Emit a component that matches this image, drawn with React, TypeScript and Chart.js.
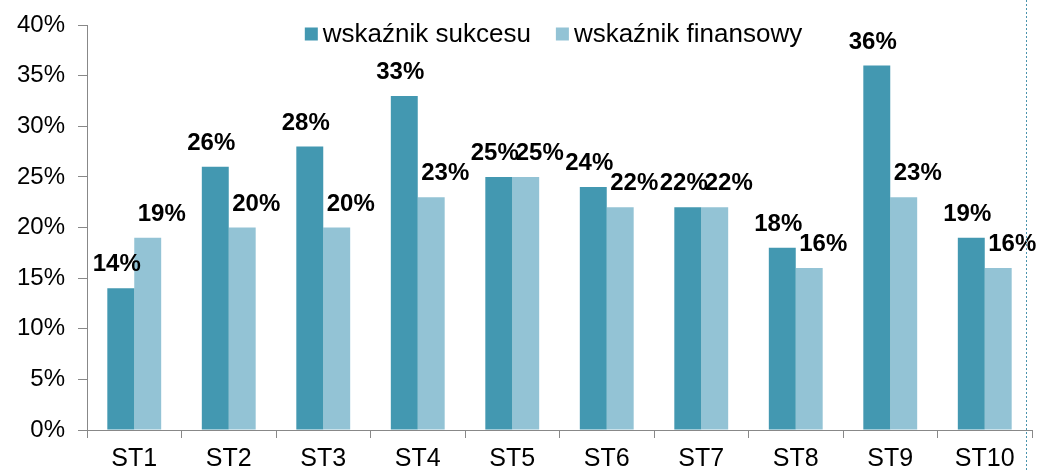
import React, { useEffect, useRef } from 'react';
import { Chart, registerables } from 'chart.js';

Chart.register(...registerables);

const categories = ['ST1', 'ST2', 'ST3', 'ST4', 'ST5', 'ST6', 'ST7', 'ST8', 'ST9', 'ST10'];
const successRate = [14, 26, 28, 33, 25, 24, 22, 18, 36, 19];
const financialRate = [19, 20, 20, 23, 25, 22, 22, 16, 23, 16];
const seriesNames = ['wskaźnik sukcesu', 'wskaźnik finansowy'];
const seriesColors = ['#4398B1', '#93C3D5'];
const yMin = 0;
const yMax = 40;
const yStep = 5;

const FONT = '"Liberation Sans", Arial, Helvetica, sans-serif';
const AXIS_COLOR = '#888888';

const dataLabelPlugin = {
  id: 'dataLabels',
  afterDatasetsDraw(chart: any) {
    const ctx = chart.ctx;
    ctx.save();
    ctx.font = `bold 24px ${FONT}`;
    ctx.fillStyle = '#000000';
    ctx.textAlign = 'center';
    ctx.textBaseline = 'alphabetic';
    chart.data.datasets.forEach((ds: any, i: number) => {
      const meta = chart.getDatasetMeta(i);
      const dx = i === 0 ? -4 : 14;
      meta.data.forEach((bar: any, j: number) => {
        ctx.fillText(`${ds.data[j]}%`, bar.x + dx, bar.y - 17);
      });
    });
    ctx.restore();
  },
};

const legendPlugin = {
  id: 'customLegend',
  afterDraw(chart: any) {
    const ctx = chart.ctx;
    const area = chart.chartArea;
    ctx.save();
    ctx.font = `26px ${FONT}`;
    const box = 13;
    const gapText = 5;
    const gapItem = 25;
    const items = chart.data.datasets.map((ds: any) => ({
      label: ds.label,
      color: ds.backgroundColor,
      w: ctx.measureText(ds.label).width,
    }));
    let total = 0;
    items.forEach((it: any, i: number) => {
      total += box + gapText + it.w + (i < items.length - 1 ? gapItem : 0);
    });
    let x = area.left + (area.right - area.left - total) / 2 - 6;
    const yc = area.top + 9;
    ctx.textBaseline = 'middle';
    ctx.textAlign = 'left';
    items.forEach((it: any) => {
      ctx.fillStyle = it.color;
      ctx.fillRect(x, yc - box / 2, box, box);
      x += box + gapText;
      ctx.fillStyle = '#000000';
      ctx.fillText(it.label, x, yc + 1);
      x += it.w + gapItem;
    });
    // dashed frame line at right
    ctx.strokeStyle = '#4A93AD';
    ctx.lineWidth = 1;
    ctx.setLineDash([2, 2]);
    const lx = Math.round(area.right - 6) + 0.5;
    ctx.beginPath();
    ctx.moveTo(lx, 0);
    ctx.lineTo(lx, chart.height);
    ctx.stroke();
    ctx.restore();
  },
};

export default function App() {
  const canvasRef = useRef<HTMLCanvasElement | null>(null);

  useEffect(() => {
    document.body.style.margin = '0';
    document.body.style.overflow = 'hidden';
    const canvas = canvasRef.current;
    if (!canvas) return;
    const chart = new Chart(canvas, {
      type: 'bar',
      data: {
        labels: categories,
        datasets: [
          {
            label: seriesNames[0],
            data: successRate,
            backgroundColor: seriesColors[0],
            borderWidth: 0,
            categoryPercentage: 0.57,
            barPercentage: 1,
          },
          {
            label: seriesNames[1],
            data: financialRate,
            backgroundColor: seriesColors[1],
            borderWidth: 0,
            categoryPercentage: 0.57,
            barPercentage: 1,
          },
        ],
      },
      options: {
        animation: false,
        responsive: false,
        maintainAspectRatio: false,
        devicePixelRatio: 1,
        layout: { padding: { top: 25, right: 6, left: 0, bottom: 0 } },
        plugins: {
          legend: { display: false },
          tooltip: { enabled: false },
        },
        scales: {
          x: {
            grid: {
              display: true,
              drawOnChartArea: false,
              drawTicks: true,
              tickLength: 8,
              color: AXIS_COLOR,
              offset: true,
            },
            border: { display: true, color: AXIS_COLOR, width: 1 },
            ticks: {
              color: '#000000',
              font: { family: FONT, size: 25 },
              padding: 6,
              maxRotation: 0,
              autoSkip: false,
            },
            afterFit(scale: any) {
              scale.height = 41;
              scale.paddingLeft = 0;
              scale.paddingRight = 0;
            },
          },
          y: {
            min: yMin,
            max: yMax,
            grid: {
              display: true,
              drawOnChartArea: false,
              drawTicks: true,
              tickLength: 9,
              color: AXIS_COLOR,
            },
            border: { display: true, color: AXIS_COLOR, width: 1 },
            ticks: {
              stepSize: yStep,
              color: '#000000',
              font: { family: FONT, size: 24 },
              padding: 13,
              callback: (v: any) => `${v}%`,
            },
            afterFit(scale: any) {
              scale.width = 87;
              scale.paddingTop = 0;
              scale.paddingBottom = 0;
            },
          },
        },
      },
      plugins: [dataLabelPlugin, legendPlugin],
    });
    return () => chart.destroy();
  }, []);

  return (
    <div style={{ width: 1038, height: 471, position: 'relative' }}>
      <canvas ref={canvasRef} width={1038} height={471} style={{ width: 1038, height: 471, display: 'block' }} />
    </div>
  );
}
